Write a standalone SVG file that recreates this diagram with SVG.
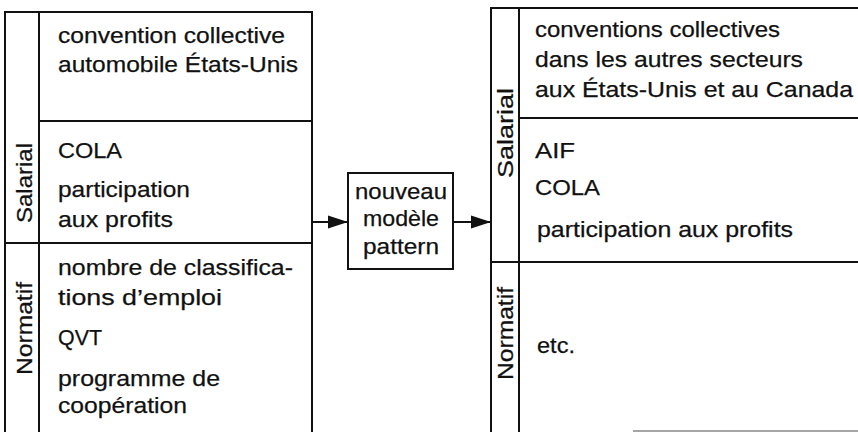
<svg xmlns="http://www.w3.org/2000/svg" width="858" height="432" viewBox="0 0 858 432">
<style>
  .ln { stroke: #111; stroke-width: 2; fill: none; }
  .t { font-family: "Liberation Sans", Arial, sans-serif; font-size: 22px; fill: #111; stroke: #111; stroke-width: 0.25; }
  .c { text-anchor: middle; }
</style>
<defs>
  <marker id="arr" markerWidth="20" markerHeight="14" refX="20" refY="7" orient="auto" markerUnits="userSpaceOnUse">
    <path d="M0,0.5 L20,7 L0,13.5 Z" fill="#111"/>
  </marker>
</defs>
<rect width="858" height="432" fill="#fff"/>

<g id="left-table">
  <path class="ln" d="M5,432 V12 H312 V432 M39,12 V432 M39,121 H312 M5,243 H312"/>
  <text class="t" transform="translate(32,223) rotate(-90)" textLength="80" lengthAdjust="spacingAndGlyphs">Salarial</text>
  <text class="t" transform="translate(32,375) rotate(-90)" textLength="93" lengthAdjust="spacingAndGlyphs">Normatif</text>
  <text class="t" x="58" y="43" textLength="227" lengthAdjust="spacingAndGlyphs">convention collective</text>
  <text class="t" x="58" y="72" textLength="240" lengthAdjust="spacingAndGlyphs">automobile États-Unis</text>
  <text class="t" x="58" y="158" textLength="64" lengthAdjust="spacingAndGlyphs">COLA</text>
  <text class="t" x="58" y="197" textLength="132" lengthAdjust="spacingAndGlyphs">participation</text>
  <text class="t" x="58" y="227" textLength="115" lengthAdjust="spacingAndGlyphs">aux profits</text>
  <text class="t" x="58" y="275" textLength="235" lengthAdjust="spacingAndGlyphs">nombre de classifica-</text>
  <text class="t" x="58" y="305" textLength="164" lengthAdjust="spacingAndGlyphs">tions d’emploi</text>
  <text class="t" x="58" y="345" textLength="44" lengthAdjust="spacingAndGlyphs">QVT</text>
  <text class="t" x="58" y="386" textLength="162" lengthAdjust="spacingAndGlyphs">programme de</text>
  <text class="t" x="58" y="413" textLength="129" lengthAdjust="spacingAndGlyphs">coopération</text>
</g>

<g id="middle-box">
  <rect class="ln" x="348" y="173" width="105" height="96"/>
  <text class="t c" x="401" y="199" textLength="92" lengthAdjust="spacingAndGlyphs">nouveau</text>
  <text class="t c" x="401" y="226" textLength="76" lengthAdjust="spacingAndGlyphs">modèle</text>
  <text class="t c" x="401" y="254" textLength="76" lengthAdjust="spacingAndGlyphs">pattern</text>
</g>

<g id="right-table">
  <path class="ln" d="M491,432 V8 H858 M519,8 V432 M519,118 H858 M491,262 H858"/>
  <path d="M633,431 H858" stroke="#888" stroke-width="1.5" fill="none"/>
  <text class="t" transform="translate(513,178) rotate(-90)" textLength="90" lengthAdjust="spacingAndGlyphs">Salarial</text>
  <text class="t" transform="translate(513,380) rotate(-90)" textLength="93" lengthAdjust="spacingAndGlyphs">Normatif</text>
  <text class="t" x="535" y="37" textLength="245" lengthAdjust="spacingAndGlyphs">conventions collectives</text>
  <text class="t" x="535" y="67" textLength="268" lengthAdjust="spacingAndGlyphs">dans les autres secteurs</text>
  <text class="t" x="535" y="97" textLength="318" lengthAdjust="spacingAndGlyphs">aux États-Unis et au Canada</text>
  <text class="t" x="535" y="158" textLength="40" lengthAdjust="spacingAndGlyphs">AIF</text>
  <text class="t" x="535" y="195" textLength="65" lengthAdjust="spacingAndGlyphs">COLA</text>
  <text class="t" x="537" y="237" textLength="256" lengthAdjust="spacingAndGlyphs">participation aux profits</text>
  <text class="t" x="537" y="353" textLength="38" lengthAdjust="spacingAndGlyphs">etc.</text>
</g>

<g id="connectors">
  <line class="ln" x1="312" y1="222" x2="348" y2="222" marker-end="url(#arr)"/>
  <line class="ln" x1="453" y1="222" x2="491" y2="222" marker-end="url(#arr)"/>
</g>
</svg>
